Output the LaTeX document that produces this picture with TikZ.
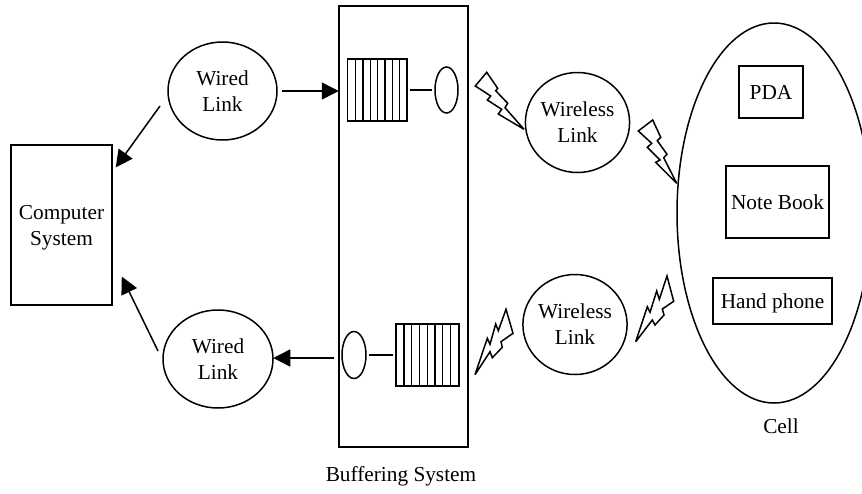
\documentclass[tikz,border=0pt]{standalone}
\usepackage{fontspec}
\setmainfont{Liberation Serif}
\usetikzlibrary{arrows.meta,shapes.geometric}
\tikzset{
  ln/.style={draw=black,line width=1.5pt},
  oval/.style={ln,ellipse,inner sep=0pt,align=center,font=\fontsize{21.3}{25.8}\selectfont},
  box/.style={ln,rectangle,inner sep=0pt,align=center,font=\fontsize{21.3}{25.8}\selectfont},
  lbl/.style={inner sep=0pt,align=center,font=\fontsize{21.3}{25.8}\selectfont},
  arr/.style={line width=1.5pt,-{Triangle[length=17pt,width=17pt]},shorten >=-0.5pt},
  bolt/.style={ln,line join=miter,miter limit=6}
}
\begin{document}
\begin{tikzpicture}[x=1pt,y=-1pt]
\clip (0,0) rectangle (862,493);
\useasboundingbox (0,0) rectangle (862,493);
\fill[white] (0,0) rectangle (862,493);
% main nodes
\node[box,minimum width=101pt,minimum height=160pt] (computer) at (61.5,225) {};
\node[lbl] (computerlbl) at (61.5,228) {Computer\\System};
\node[box,minimum width=129pt,minimum height=441pt] (buffer) at (403.5,226.5) {};
\node[oval,minimum width=109pt,minimum height=98pt] (wiredT) at (222.5,91) {Wired\\Link};
\node[oval,minimum width=110pt,minimum height=98pt] (wiredB) at (218,359) {Wired\\Link};
\node[oval,minimum width=103pt,minimum height=100pt] (wlessT) at (577.5,122.5) {Wireless\\Link};
\node[oval,minimum width=104pt,minimum height=100pt] (wlessB) at (575,324.5) {Wireless\\Link};
\node[oval,minimum width=194pt,minimum height=380pt] (cell) at (774,213) {};
\node[box,minimum width=64pt,minimum height=52pt] (pda) at (771,92) {PDA};
\node[box,minimum width=103pt,minimum height=72pt] (note) at (777.5,202) {Note Book};
\node[box,minimum width=119pt,minimum height=46pt,text depth=0pt] (hand) at (772.5,301) {Hand phone};
\node[lbl] (celllbl) at (781,426) {Cell};
\node[lbl] (buflbl) at (401,476) {Buffering System};
% queues
\node[box,minimum width=59.5pt,minimum height=62pt] (qT) at (377.25,90) {};
\foreach \x in {355.3,363,370.7,377.7,385,392.3,399.7}
  \draw[ln] (\x,59) -- (\x,121);
\node[box,minimum width=63pt,minimum height=62pt] (qB) at (427.5,355) {};
\foreach \x in {404,411.7,419.3,427.3,435,442.7,450.7}
  \draw[ln] (\x,324) -- (\x,386);
% servers
\node[oval,minimum width=23pt,minimum height=46pt] (sT) at (446.5,90) {};
\node[oval,minimum width=24pt,minimum height=47pt] (sB) at (354,355) {};
\draw[ln,shorten >=2pt,shorten <=2pt] (qT.east) -- (sT.west);
\draw[ln,shorten >=2pt,shorten <=2pt] (sB.east) -- (qB.west);
% arrows
\coordinate (a1s) at (160,106);
\coordinate (a1e) at (116,167);
\coordinate (a2s) at (158,351);
\coordinate (a2e) at (122,277);
\draw[arr] (wiredT.east) ++(4,0) coordinate (a3s) -- (a3s -| buffer.west);
\draw[arr] (a1s) -- (a1e);
\draw[arr] (a2s) -- (a2e);
\coordinate (a4s) at (334,358);
\draw[arr] (a4s) -- (a4s -| wiredB.east);
% bolts
\draw[bolt] (486.7,72.3) -- (497.7,88.3) -- (495.7,90.7) -- (507.7,103.3) -- (505,107.7) -- (524,129.3) -- (498.3,114) -- (501.7,109.3) -- (487.3,100) -- (490.7,96) -- (475.3,86) -- cycle;
\draw[bolt] (475,374.7) -- (487.3,338.3) -- (490,344.3) -- (495.7,324) -- (498.3,330.7) -- (506,309.3) -- (513,333.3) -- (501,341.7) -- (502.3,347.3) -- (492.3,357.7) -- (490,351.7) -- cycle;
\draw[bolt] (652.7,120) -- (660.7,137.3) -- (657.3,140.7) -- (667,154.3) -- (663.7,157.7) -- (676.7,183.3) -- (655.7,162.3) -- (660,160) -- (647.3,147.3) -- (651.7,143.3) -- (638.3,131) -- cycle;
\draw[bolt] (635.7,341.7) -- (647.3,306.7) -- (650,312.3) -- (656.7,291) -- (659.3,299.3) -- (667,276) -- (673.7,301.3) -- (662.3,309) -- (664,315) -- (655,325) -- (652.3,320) -- cycle;
\end{tikzpicture}
\end{document}
